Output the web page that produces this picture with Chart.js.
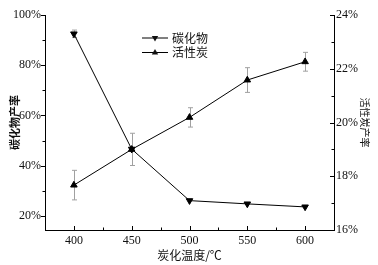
<!DOCTYPE html>
<html>
<head>
<meta charset="utf-8">
<script src="https://cdn.jsdelivr.net/npm/chart.js@4"></script>
<style>
  body { margin: 0; background: #fff; }
  #yieldChart { display: block; }
</style>
</head>
<body>
<canvas id="yieldChart" width="378" height="265"></canvas>
<script>
// carbonization temperature (℃)
const temps = [400, 450, 500, 550, 600];
// 碳化物产率 (%), left axis
const carbideYield = [92.5, 46.6, 26.1, 24.8, 23.6];
const carbideErr = [1.5, 0, 0, 0, 0];
// 活性炭产率 (%), right axis
const carbonYield = [17.67, 19.0, 20.19, 21.58, 22.26];
const carbonErr = [0.55, 0.6, 0.36, 0.46, 0.35];

// tick labels
const xTicks = [400, 450, 500, 550, 600];
const leftTicks = [20, 40, 60, 80, 100];
const rightTicks = [16, 18, 20, 22, 24];

const serif = "'Liberation Serif', 'DejaVu Serif', serif";
const cjk = "'Noto Sans CJK SC', sans-serif";

// grey error bars, drawn under the markers
const errorBars = {
    id: 'errorBars',
    beforeDatasetsDraw(chart) {
        const ctx = chart.ctx;
        const x = chart.scales.x;
        ctx.save();
        ctx.strokeStyle = '#a0a0a0';
        ctx.lineWidth = 1;
        chart.data.datasets.forEach(ds => {
            const y = chart.scales[ds.yAxisID];
            ds.err.forEach((e, i) => {
                if (!e) return;
                const px = Math.round(x.getPixelForValue(temps[i])) + 0.5;
                const top = y.getPixelForValue(ds.data[i] + e);
                const bot = y.getPixelForValue(ds.data[i] - e);
                ctx.beginPath();
                ctx.moveTo(px, top); ctx.lineTo(px, bot);
                ctx.moveTo(px - 2.5, top); ctx.lineTo(px + 2.5, top);
                ctx.moveTo(px - 2.5, bot); ctx.lineTo(px + 2.5, bot);
                ctx.stroke();
            });
        });
        ctx.restore();
    }
};

// tick marks: left outward, bottom and right inward, with minor ticks
const tickMarks = {
    id: 'tickMarks',
    afterDraw(chart) {
        const ctx = chart.ctx;
        const {x, yL, yR} = chart.scales;
        const area = chart.chartArea;
        ctx.save();
        ctx.strokeStyle = '#000';
        ctx.lineWidth = 1;
        ctx.beginPath();
        const mark = (ticks, fn) => {
            ticks.forEach((v, i) => {
                fn(v, 4);
                if (i < ticks.length - 1) fn((v + ticks[i + 1]) / 2, 2.5);
            });
        };
        mark(xTicks, (v, len) => {
            const px = Math.round(x.getPixelForValue(v)) + 0.5;
            ctx.moveTo(px, area.bottom); ctx.lineTo(px, area.bottom - len);
        });
        mark(leftTicks, (v, len) => {
            const py = Math.round(yL.getPixelForValue(v)) + 0.5;
            ctx.moveTo(area.left, py); ctx.lineTo(area.left - len, py);
        });
        mark(rightTicks, (v, len) => {
            const py = Math.round(yR.getPixelForValue(v)) + 0.5;
            ctx.moveTo(area.right, py); ctx.lineTo(area.right - len, py);
        });
        ctx.stroke();

        // legend inside the plot
        const items = [
            {label: '碳化物', rot: Math.PI},
            {label: '活性炭', rot: 0}
        ];
        ctx.font = '12px ' + cjk;
        ctx.fillStyle = '#111';
        ctx.textBaseline = 'middle';
        items.forEach((it, i) => {
            const ly = 38 + i * 14.5;
            ctx.beginPath();
            ctx.moveTo(142, ly); ctx.lineTo(168, ly);
            ctx.stroke();
            ctx.save();
            ctx.translate(155, ly);
            ctx.rotate(it.rot);
            ctx.beginPath();
            ctx.moveTo(0, -3.5); ctx.lineTo(3.2, 2); ctx.lineTo(-3.2, 2);
            ctx.closePath();
            ctx.fill();
            ctx.restore();
            ctx.fillText(it.label, 172, ly);
        });
        ctx.restore();
    }
};

const axisBorder = {
    display: true,
    drawOnChartArea: false,
    drawTicks: false
};

const config = {
    type: 'line',
    data: {
        labels: temps,
        datasets: [{
            label: '碳化物',
            data: carbideYield,
            err: carbideErr,
            yAxisID: 'yL',
            borderColor: '#000',
            backgroundColor: '#000',
            borderWidth: 1,
            pointStyle: 'triangle',
            pointRotation: 180,
            pointRadius: 3.8
        }, {
            label: '活性炭',
            data: carbonYield,
            err: carbonErr,
            yAxisID: 'yR',
            borderColor: '#000',
            backgroundColor: '#000',
            borderWidth: 1,
            pointStyle: 'triangle',
            pointRadius: 3.8
        }]
    },
    options: {
        responsive: false,
        animation: false,
        layout: { padding: { top: 15, left: 0, right: 0, bottom: 0 } },
        plugins: {
            legend: { display: false },
            tooltip: { enabled: false }
        },
        scales: {
            x: {
                type: 'linear',
                min: 375,
                max: 625,
                afterBuildTicks: s => { s.ticks = xTicks.map(v => ({value: v})); },
                afterFit: s => { s.height = 35; },
                grid: axisBorder,
                border: { color: '#000', width: 1 },
                ticks: { color: '#111', padding: 4, font: { family: serif, size: 12 } },
                title: {
                    display: true,
                    text: '炭化温度/℃',
                    color: '#111',
                    font: { family: cjk, size: 12 },
                    padding: { top: 0, bottom: 2 }
                }
            },
            yL: {
                type: 'linear',
                position: 'left',
                min: 14.4,
                max: 100,
                afterBuildTicks: s => { s.ticks = leftTicks.map(v => ({value: v})); },
                afterFit: s => { s.width = 45; },
                grid: axisBorder,
                border: { color: '#000', width: 1 },
                ticks: {
                    color: '#111', padding: 4,
                    font: { family: serif, size: 12 },
                    callback: v => v + '%'
                },
                title: {
                    display: true,
                    text: '碳化物产率',
                    color: '#111',
                    font: { family: cjk, size: 11, weight: 'bold' },
                    padding: { top: 8.5, bottom: 0 }
                }
            },
            yR: {
                type: 'linear',
                position: 'right',
                min: 16,
                max: 24,
                afterBuildTicks: s => { s.ticks = rightTicks.map(v => ({value: v})); },
                afterFit: s => { s.width = 44; },
                grid: axisBorder,
                border: { color: '#000', width: 1 },
                ticks: {
                    color: '#111', padding: 2,
                    font: { family: serif, size: 12 },
                    callback: v => v + '%'
                },
                title: {
                    display: true,
                    text: '活性炭产率',
                    color: '#111',
                    font: { family: cjk, size: 10 },
                    padding: { top: 7, bottom: 0 }
                }
            }
        }
    },
    plugins: [errorBars, tickMarks]
};

const chartContext = document.getElementById('yieldChart').getContext('2d');
const yieldChart = new Chart(chartContext, config);
</script>
</body>
</html>
